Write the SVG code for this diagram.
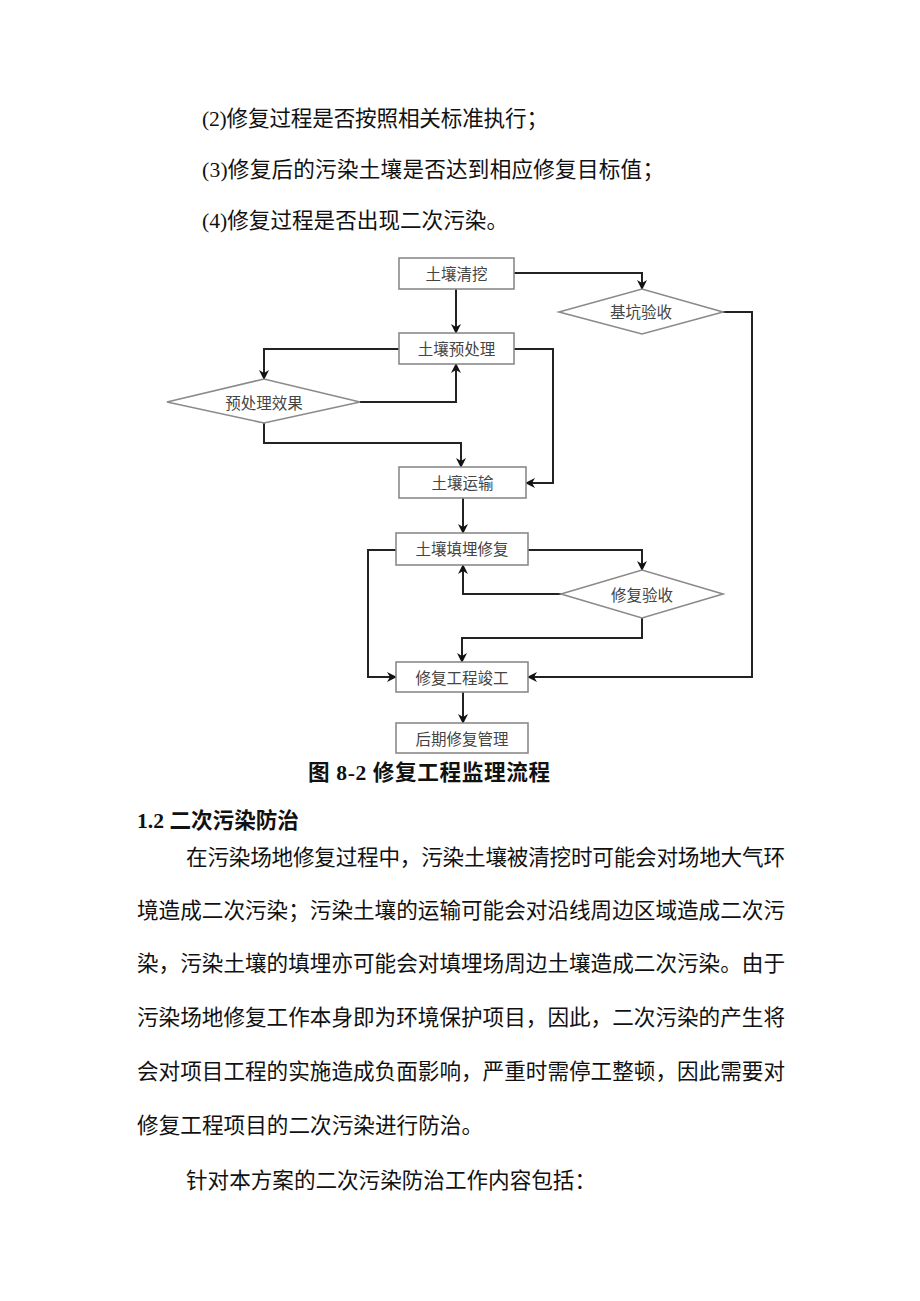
<svg xmlns="http://www.w3.org/2000/svg" width="920" height="1301" viewBox="0 0 920 1301">
<defs>
<style>
.t{font-family:"Liberation Serif","Noto Sans CJK SC",serif;font-size:21.6px;fill:#111}
.cap{font-family:"Liberation Serif","Noto Sans CJK SC",serif;font-size:21.6px;fill:#111;font-weight:bold}
.h{font-family:"Liberation Serif","Noto Sans CJK SC",serif;font-size:21.6px;fill:#111;font-weight:bold}
.box{fill:#fff;stroke:#8a8a8a;stroke-width:1.6}
.nt{font-family:"Liberation Serif","Noto Sans CJK SC",serif;font-size:15.5px;fill:#444;text-anchor:middle;dominant-baseline:central}
.c{fill:none;stroke:#222;stroke-width:2}
</style>
<marker id="ah" viewBox="0 0 10 10" refX="9" refY="5" markerWidth="10" markerHeight="10" markerUnits="userSpaceOnUse" orient="auto">
<path d="M0,0 L10,5 L0,10 L3,5 Z" fill="#111"/>
</marker>
</defs>
<rect width="920" height="1301" fill="#fff"/>

<g id="intro">
<text class="t" x="202" y="126" textLength="346" lengthAdjust="spacing">(2)修复过程是否按照相关标准执行；</text>
<text class="t" x="202" y="177" textLength="462" lengthAdjust="spacing">(3)修复后的污染土壤是否达到相应修复目标值；</text>
<text class="t" x="202" y="228" textLength="306" lengthAdjust="spacing">(4)修复过程是否出现二次污染。</text>
</g>

<g id="connectors">
<path class="c" d="M456,289 V333" marker-end="url(#ah)"/>
<path class="c" d="M514,273 H642 V289" marker-end="url(#ah)"/>
<path class="c" d="M723,312 H752 V677 H528" marker-end="url(#ah)"/>
<path class="c" d="M399,349 H264 V379" marker-end="url(#ah)"/>
<path class="c" d="M360,402 H456 V364" marker-end="url(#ah)"/>
<path class="c" d="M264,423 V443 H461 V467" marker-end="url(#ah)"/>
<path class="c" d="M514,349 H553 V483 H526" marker-end="url(#ah)"/>
<path class="c" d="M463,498 V533" marker-end="url(#ah)"/>
<path class="c" d="M528,550 H642 V570" marker-end="url(#ah)"/>
<path class="c" d="M561,594 H463 V565" marker-end="url(#ah)"/>
<path class="c" d="M642,618 V638 H462 V662" marker-end="url(#ah)"/>
<path class="c" d="M396,550 H368 V677 H396" marker-end="url(#ah)"/>
<path class="c" d="M463,692 V723" marker-end="url(#ah)"/>
</g>

<g id="n1"><rect class="box" x="399" y="258" width="115" height="31"/><text class="nt" x="456.5" y="274">土壤清挖</text></g>
<g id="n2"><polygon class="box" points="559,312 642,289 723,312 642,334"/><text class="nt" x="641" y="312">基坑验收</text></g>
<g id="n3"><rect class="box" x="399" y="333" width="115" height="31"/><text class="nt" x="456.5" y="349">土壤预处理</text></g>
<g id="n4"><polygon class="box" points="167,402 264,379 360,402 264,423"/><text class="nt" x="264" y="403">预处理效果</text></g>
<g id="n5"><rect class="box" x="399" y="467" width="127" height="31"/><text class="nt" x="462.5" y="483">土壤运输</text></g>
<g id="n6"><rect class="box" x="396" y="533" width="132" height="32"/><text class="nt" x="462" y="549">土壤填埋修复</text></g>
<g id="n7"><polygon class="box" points="561,594 642,570 723,594 642,618"/><text class="nt" x="642" y="595">修复验收</text></g>
<g id="n8"><rect class="box" x="396" y="662" width="132" height="30"/><text class="nt" x="462" y="678">修复工程竣工</text></g>
<g id="n9"><rect class="box" x="396" y="723" width="132" height="30"/><text class="nt" x="462" y="739">后期修复管理</text></g>

<g id="caption">
<text class="cap" x="308" y="780" textLength="242" lengthAdjust="spacing">图 8-2 修复工程监理流程</text>
</g>

<g id="body">
<text class="h" x="137" y="828">1.2 二次污染防治</text>
<text class="t" x="186" y="865" textLength="599" lengthAdjust="spacing">在污染场地修复过程中，污染土壤被清挖时可能会对场地大气环</text>
<text class="t" x="137" y="918" textLength="648" lengthAdjust="spacing">境造成二次污染；污染土壤的运输可能会对沿线周边区域造成二次污</text>
<text class="t" x="137" y="971" textLength="648" lengthAdjust="spacing">染，污染土壤的填埋亦可能会对填埋场周边土壤造成二次污染。由于</text>
<text class="t" x="137" y="1025" textLength="648" lengthAdjust="spacing">污染场地修复工作本身即为环境保护项目，因此，二次污染的产生将</text>
<text class="t" x="137" y="1079" textLength="648" lengthAdjust="spacing">会对项目工程的实施造成负面影响，严重时需停工整顿，因此需要对</text>
<text class="t" x="137" y="1133" textLength="346" lengthAdjust="spacing">修复工程项目的二次污染进行防治。</text>
<text class="t" x="186" y="1188" textLength="410" lengthAdjust="spacing">针对本方案的二次污染防治工作内容包括：</text>
</g>
</svg>
